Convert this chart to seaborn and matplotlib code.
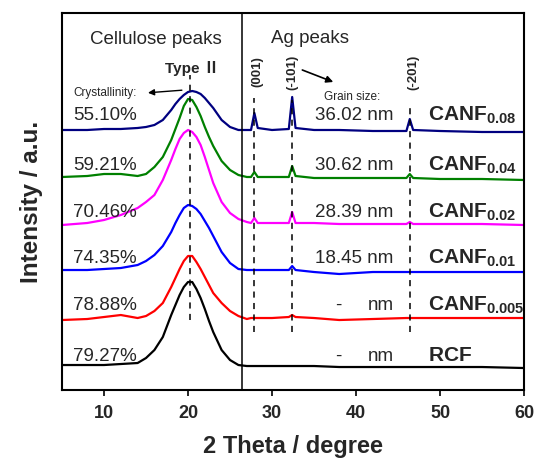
import numpy as np
import pandas as pd
import matplotlib
matplotlib.use("Agg")
import matplotlib.pyplot as plt
import seaborn as sns

# ---- data (stacked intensity, a.u.) ----
two_theta = [5, 8, 10, 12, 14, 15, 16, 17, 18, 18.5, 19, 19.5, 20, 20.5, 21, 21.5, 22, 22.5, 23,
             24, 25, 26, 27, 27.5, 27.9, 28.3, 30, 32.0, 32.4, 32.8, 35, 38, 42,
             46.0, 46.4, 46.8, 50, 55, 60]

rcf = [25, 25, 25, 26, 27, 32, 40, 53, 75, 85, 95, 103, 108, 108, 101, 92, 81, 69, 58,
       40, 30, 25, 24, 24, 24, 24, 24, 24, 24, 24, 24, 23, 23,
       23, 23, 23, 23, 23, 22]
canf_0005 = [70, 71, 73, 75, 72, 74, 79, 87, 103, 112, 121, 129, 134, 134, 128, 121, 113, 105, 97,
             87, 79, 74, 71, 72, 72, 72, 72, 73, 75, 73, 72, 70, 71,
             72, 72, 72, 72, 72, 72]
canf_001 = [120, 120, 121, 122, 125, 129, 135, 144, 158, 167, 175, 182, 185, 184, 181, 176, 169, 162, 154,
            138, 127, 121, 120, 120, 120, 120, 120, 120, 124, 120, 118, 116, 118,
            118, 118, 118, 118, 118, 118]
canf_002 = [165, 167, 170, 175, 182, 188, 195, 210, 230, 241, 251, 257, 260, 258, 253, 245, 233, 220, 207,
            188, 177, 171, 168, 167, 172, 167, 167, 167, 178, 167, 167, 166, 166,
            166, 168, 166, 166, 166, 165]
canf_004 = [213, 214, 216, 216, 214, 216, 223, 233, 250, 261, 272, 284, 291, 290, 283, 274, 263, 253, 244,
            229, 220, 215, 213, 213, 218, 213, 213, 213, 224, 214, 212, 212, 212,
            212, 216, 212, 211, 211, 210]
canf_008 = [260, 260, 261, 261, 262, 263, 265, 270, 280, 286, 291, 295, 298, 299, 298, 296, 292, 287, 282,
            270, 263, 260, 260, 260, 277, 262, 260, 261, 293, 262, 260, 260, 259,
            259, 271, 260, 259, 258, 258]

samples = ["RCF", "CANF0.005", "CANF0.01", "CANF0.02", "CANF0.04", "CANF0.08"]
series = [rcf, canf_0005, canf_001, canf_002, canf_004, canf_008]
colors = ["#000000", "#ff0000", "#0000ff", "#ff00ff", "#008000", "#000080"]

labels = [r"$\mathbf{RCF}$", r"$\mathbf{CANF}_{\mathbf{0.005}}$", r"$\mathbf{CANF}_{\mathbf{0.01}}$",
          r"$\mathbf{CANF}_{\mathbf{0.02}}$", r"$\mathbf{CANF}_{\mathbf{0.04}}$", r"$\mathbf{CANF}_{\mathbf{0.08}}$"]
crystallinity = ["79.27%", "78.88%", "74.35%", "70.46%", "59.21%", "55.10%"]
grain_size = ["-", "-", "18.45", "28.39", "30.62", "36.02"]
label_base = [29, 80, 127, 173, 220, 270]

ag_peaks = [27.9, 32.4, 46.4]
ag_labels = ["(001)", "(-101)", "(-201)"]
type2_pos = 20.2
divider = 26.4

# ---- style ----
sns.set_theme(style="ticks")
plt.rcParams["font.family"] = ["Liberation Sans", "DejaVu Sans"]
plt.rcParams["mathtext.fontset"] = "custom"
plt.rcParams["mathtext.bf"] = "Liberation Sans:bold"
plt.rcParams["mathtext.rm"] = "Liberation Sans"

df = pd.concat([pd.DataFrame({"2theta": two_theta, "I": s, "sample": n})
                for n, s in zip(samples, series)], ignore_index=True)

fig = plt.figure(figsize=(5.37, 4.62), dpi=100)
ax = fig.add_axes([0.1155, 0.1558, 0.8603, 0.8161])

sns.lineplot(data=df, x="2theta", y="I", hue="sample", palette=dict(zip(samples, colors)),
             estimator=None, sort=False, linewidth=1.6, legend=False, ax=ax)

ax.set_xlim(5, 60)
ax.set_ylim(0, 377)
ax.set_xticks([10, 20, 30, 40, 50, 60])
ax.set_yticks([])
for lbl in ax.get_xticklabels():
    lbl.set_fontweight("bold")
ax.tick_params(axis="x", labelsize=13, direction="out", length=4, width=1.2, color="black", pad=7)
for sp in ax.spines.values():
    sp.set_color("black")
    sp.set_linewidth(1.5)

ax.set_xlabel("2 Theta / degree", fontsize=17, fontweight="bold", labelpad=9)
ax.set_ylabel("Intensity / a.u.", fontsize=17.5, fontweight="bold", labelpad=14)

# divider and reference lines
ax.axvline(divider, color="black", linewidth=1.1)
ax.plot([type2_pos, type2_pos], [70, 315], color="black", linestyle=(0, (4, 3.5)), linewidth=1.1)
for xp, top in zip(ag_peaks, [292, 290, 284]):
    ax.plot([xp, xp], [58, top], color="black", linestyle=(0, (4, 3.5)), linewidth=1.1)

# region titles
ax.text(8.3, 346, "Cellulose peaks", fontsize=13.5, va="baseline", ha="left")
ax.text(29.9, 347, "Ag peaks", fontsize=13.5, va="baseline", ha="left")
ax.text(20.5, 317, "Type \u2161", fontsize=11, fontweight="bold", va="baseline", ha="center",
        family=["Liberation Sans", "Noto Sans CJK SC"])

for xp, lab, dx in zip(ag_peaks, ag_labels, [0.4, 0.0, 0.4]):
    ax.text(xp + dx, 318, lab, rotation=90, fontsize=9.5, fontweight="bold", va="center", ha="center")

# annotations
ax.text(6.3, 294, "Crystallinity:", fontsize=8.5, va="baseline", ha="left")
ax.annotate("", xy=(14.9, 297), xytext=(19.6, 300),
            arrowprops=dict(arrowstyle="-|>", color="black", lw=1, mutation_scale=9))
ax.text(36.2, 290, "Grain size:", fontsize=8.5, va="baseline", ha="left")
ax.annotate("", xy=(37.6, 307), xytext=(33.3, 321),
            arrowprops=dict(arrowstyle="-|>", color="black", lw=1.2, mutation_scale=10))

for base, cr, gs, lab in zip(label_base, crystallinity, grain_size, labels):
    ax.text(6.3, base, cr, fontsize=13.5, va="baseline", ha="left")
    if gs == "-":
        ax.text(37.9, base, "-", fontsize=13.5, va="baseline", ha="center")
        ax.text(44.5, base, "nm", fontsize=13.5, va="baseline", ha="right")
    else:
        ax.text(44.5, base, gs + " nm", fontsize=13.5, va="baseline", ha="right")
    ax.text(48.6, base, lab, fontsize=15, va="baseline", ha="left")

fig.savefig("out.png", dpi=100)
